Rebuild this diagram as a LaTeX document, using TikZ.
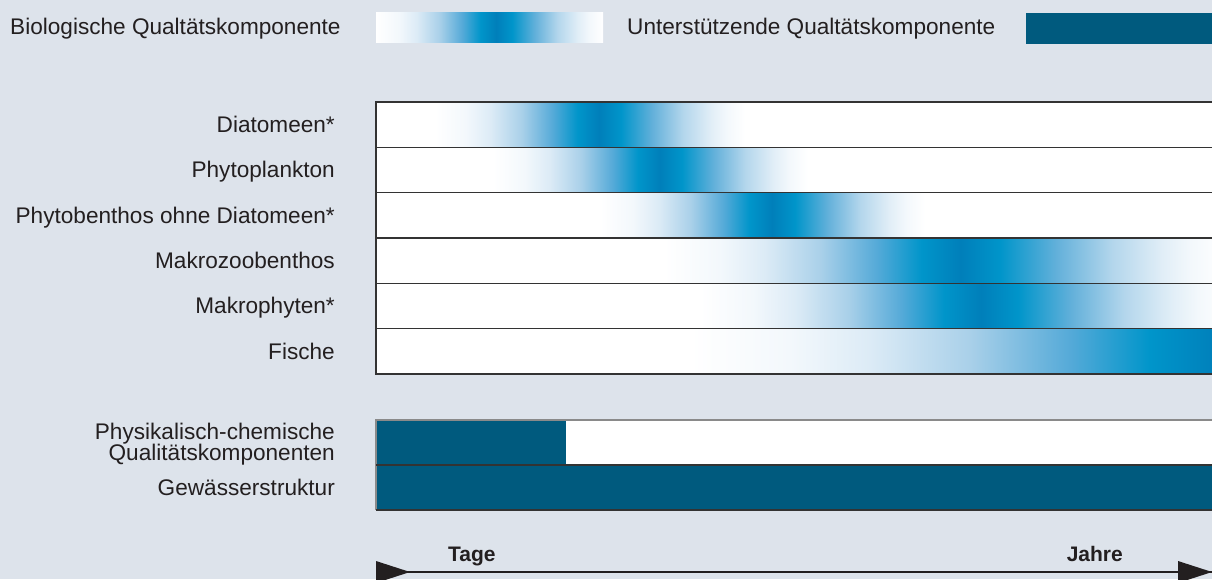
\documentclass[tikz,border=0pt]{standalone}
\usepackage{fontspec}
\setmainfont{Liberation Sans}
\usepackage{tikz}
\usetikzlibrary{positioning}

\definecolor{bg}{HTML}{DDE3EB}
\definecolor{deepteal}{HTML}{005A7E}
\definecolor{linegray}{HTML}{333333}
\definecolor{edgegray}{HTML}{8A8A8A}
\definecolor{arrowblack}{HTML}{231F20}
\definecolor{bfaint}{HTML}{F3F8FC}
\definecolor{bpale}{HTML}{DCEBF6}
\definecolor{blight}{HTML}{A9D0E9}
\definecolor{bmid}{HTML}{55AAD8}
\definecolor{bcyan}{HTML}{0095CA}
\definecolor{bdeep}{HTML}{007FBA}
\definecolor{bmid2}{HTML}{62B0DA}
\definecolor{blight2}{HTML}{B3D6EC}
\definecolor{bpale2}{HTML}{E1EEF7}

\pgfdeclarehorizontalshading{bioband}{100bp}{color(0bp)=(white); color(25bp)=(white);
  color(30bp)=(bfaint); color(34bp)=(bpale); color(39bp)=(blight); color(44bp)=(bmid);
  color(48bp)=(bcyan); color(51.5bp)=(bdeep); color(55bp)=(bcyan); color(60bp)=(bmid2);
  color(65bp)=(blight2); color(69.5bp)=(bpale2); color(72bp)=(bfaint);
  color(75bp)=(white); color(100bp)=(white)}

\tikzstyle{txt}=[inner sep=0pt, font=\fontsize{22.6}{21.4}\selectfont, text=arrowblack]
\tikzstyle{lbl}=[txt, anchor=base east]
\tikzstyle{legend}=[txt, anchor=base west]
\tikzstyle{axislbl}=[inner sep=0pt, font=\fontsize{21}{21}\selectfont\bfseries, text=arrowblack]
\tikzstyle{rowline}=[draw=linegray, line width=1.5pt]
\tikzstyle{band}=[shading=bioband]

\begin{document}
\begin{tikzpicture}[x=1pt,y=-1pt]
\useasboundingbox (0,0) rectangle (1212,579);
\clip (0,0) rectangle (1212,579);
\fill[bg] (0,0) rectangle (1212,579);

% Legende
\node[legend] (biolegend) at (10,34) {Biologische Qualtätskomponente};
\shade[band] (376,12) rectangle (603,42);
\node[legend] (supplegend) at (627,34) {Unterstützende Qualtätskomponente};
\fill[deepteal] (1026,13) rectangle (1222,44);

% biologische Komponenten
\fill[white] (376,102) rectangle (1222,374);
\foreach \name/\txt/\from/\to [count=\i] in {
  diat/Diatomeen*/435/745,
  phyto/Phytoplankton/493/808,
  benth/Phytobenthos ohne Diatomeen*/600/925,
  mzb/Makrozoobenthos/664/1224,
  mph/Makrophyten*/700/1230,
  fish/Fische/690/1690}{
  \pgfmathsetmacro\top{102+(\i-1)*45.333}
  \pgfmathsetmacro\bot{\top+45.333}
  \begin{scope}
    \clip (376,\top) rectangle (1212,\bot);
    \shade[band] (\from,\top) rectangle (\to,\bot);
  \end{scope}
  \node[lbl] (\name) at (335,\top+22.67+7.8) {\txt};
}
\foreach \i in {1,...,5}
  \draw[rowline] (376,102+\i*45.333) -- (1222,102+\i*45.333);
\draw[rowline] (1222,102) -- (376,102) -- (376,374) -- (1222,374);

% unterstuetzende Komponenten
\fill[deepteal] (376,420) rectangle (566,465);
\fill[white] (566,420) rectangle (1222,465);
\fill[deepteal] (376,465) rectangle (1222,510);
\draw[edgegray, line width=1.5pt] (1222,420) -- (376,420) -- (376,510);
\draw[rowline] (376,465) -- (1222,465);
\draw[rowline] (376,510) -- (1222,510);
\node[lbl] (phch1) at (335,439.3) {Physikalisch-chemische};
\node[lbl] (phch2) at (335,460.7) {Qualitätskomponenten};
\node[lbl] (struct) at (335,495) {Gewässerstruktur};

% Zeitachse
\coordinate (tstart) at (376,572);
\coordinate (tend) at (1212,572);
\draw[arrowblack, line width=2.8pt] (tstart) -- (tend);
\fill[arrowblack] (tstart) ++(0,-11) -- ++(34,11) -- ++(-34,11) -- cycle;
\fill[arrowblack] (tend) ++(-34,-11) -- ++(34,11) -- ++(-34,11) -- cycle;
\node[axislbl, anchor=base west] (days) at (448,561) {Tage};
\node[axislbl, anchor=base east] (years) at (1123,561) {Jahre};

\end{tikzpicture}
\end{document}
